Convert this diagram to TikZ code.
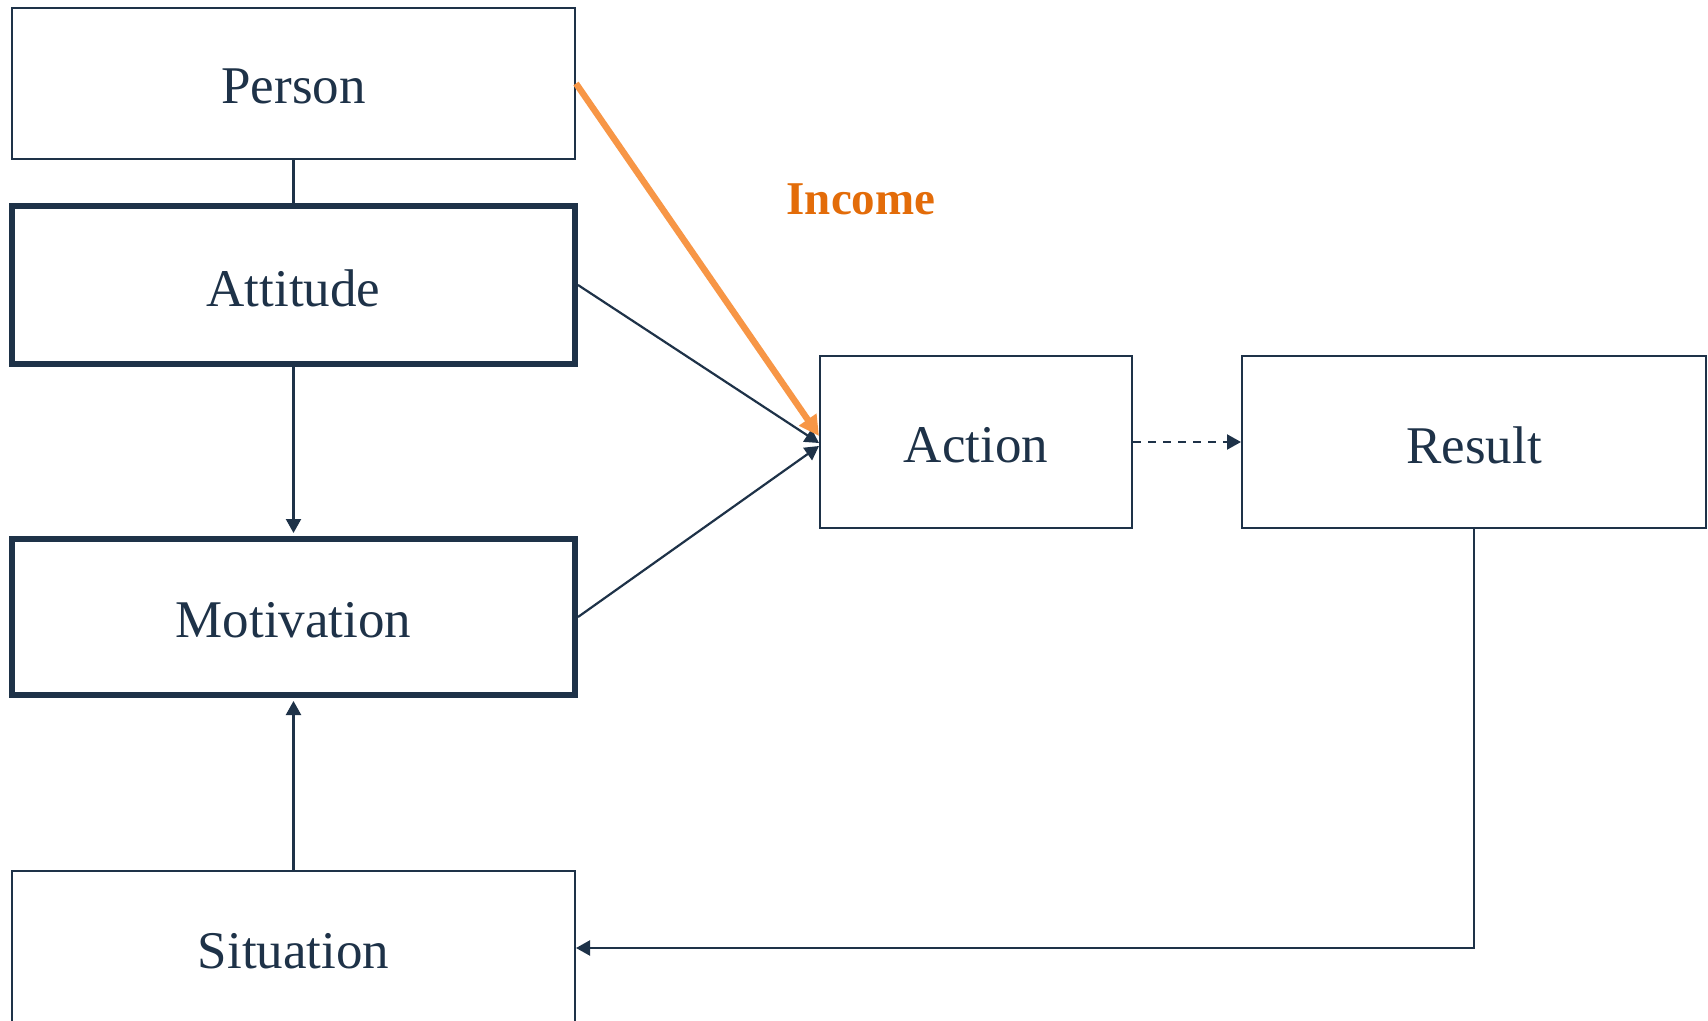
\documentclass[tikz,border=0pt]{standalone}
\usepackage{fontspec}
\setmainfont{Liberation Serif}
\usetikzlibrary{arrows.meta,positioning,calc}

\definecolor{navy}{HTML}{1E3248}
\definecolor{accent}{HTML}{F79646}
\definecolor{labelorange}{HTML}{E36C09}

% box captions sit a little below the geometric centre (extra height above the text)
\newcommand{\boxcaption}[1]{\raisebox{0pt}[\dimexpr\height+3pt\relax][\depth]{#1}}

\tikzset{
  thinbox/.style={draw=navy, line width=1pt, fill=white, inner sep=0pt,
    font=\fontsize{26.5}{30}\selectfont, text=navy},
  thickbox/.style={thinbox, line width=3pt},
  link/.style={draw=navy, line width=1.1pt},
  arrowlink/.style={link, -{Triangle[length=7pt,width=7.5pt]}},
  dashlink/.style={arrowlink, dash pattern=on 4pt off 3.5pt},
  highlight/.style={draw=accent, line width=3.2pt, -{Triangle[length=10pt,width=10pt]}},
}

\begin{document}
\begin{tikzpicture}[x=0.5pt,y=-0.5pt]
  \useasboundingbox (0,0) rectangle (1708,1021);

  % left column of factors
  \node[thinbox,  minimum width=281.5pt, minimum height=75.5pt] (person)     at (293.5,83.5) {\boxcaption{Person}};
  \node[thickbox, minimum width=281.5pt, minimum height=79pt]   (attitude)   at (293.5,285)  {\boxcaption{Attitude}};
  \node[thickbox, minimum width=281.5pt, minimum height=78pt]   (motivation) at (293.5,617)  {\boxcaption{Motivation}};
  \node[thinbox,  minimum width=281.5pt, minimum height=77pt]   (situation)  at (293.5,948)  {\boxcaption{Situation}};

  % action and its outcome
  \node[thinbox, minimum width=156pt, minimum height=86pt] (action) at (976,442)  {\boxcaption{Action}};
  \node[thinbox, minimum width=232pt, minimum height=86pt] (result) at (1474,442) {\boxcaption{Result}};

  \node[font=\fontsize{23.5}{28}\selectfont\bfseries, text=labelorange] (income) at (861,199) {Income};

  % connectors
  \draw[link] (person.south) -- (attitude.north);
  \draw[arrowlink, shorten >=1.5pt] (attitude.south) -- (motivation.north);
  \draw[arrowlink, shorten >=1.5pt] (situation.north) -- (motivation.south);
  \draw[arrowlink] (attitude.east) -- ([yshift=-0.5pt]action.west);
  \draw[arrowlink] (motivation.east) -- ([yshift=-2pt]action.west);
  \draw[dashlink] (action.east) -- (result.west);
  \draw[arrowlink] (result.south) |- (situation.east);

  % highlighted influence from person to action
  \draw[highlight] (person.east) -- ([yshift=3pt]action.west);
\end{tikzpicture}
\end{document}
